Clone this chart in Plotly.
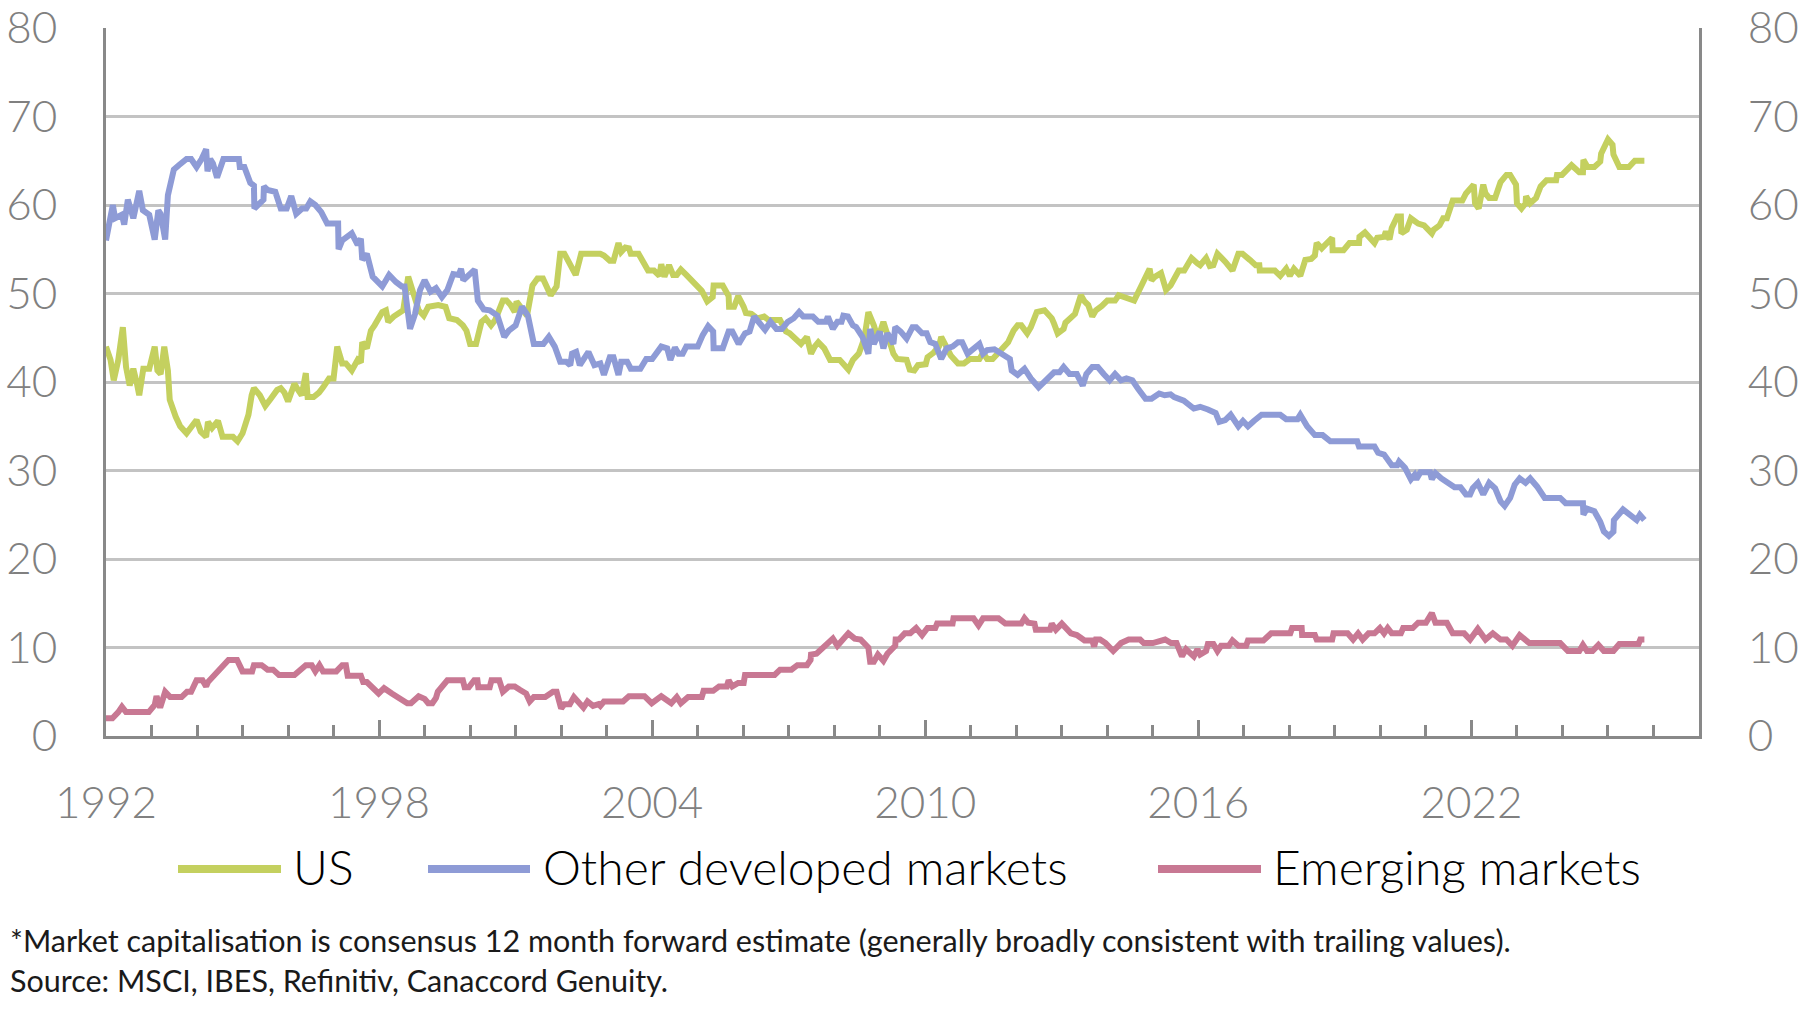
import plotly.graph_objects as go

# ---------------- data (share of world market cap, %) ----------------
us_years = [1992.0, 1992.1, 1992.17, 1992.27, 1992.37, 1992.44, 1992.52, 1992.6, 1992.68, 1992.73, 1992.82, 1992.95,
            1993.07, 1993.13, 1993.2, 1993.28, 1993.36, 1993.4, 1993.53, 1993.63, 1993.77, 1993.87, 1993.99, 1994.08,
            1994.2, 1994.24, 1994.33, 1994.46, 1994.56, 1994.79, 1994.89, 1995.0, 1995.13, 1995.2, 1995.25, 1995.38,
            1995.5, 1995.62, 1995.76, 1995.84, 1995.92, 1996.0, 1996.14, 1996.22, 1996.3, 1996.39, 1996.43, 1996.56,
            1996.68, 1996.77, 1996.9, 1997.0, 1997.08, 1997.19, 1997.27, 1997.4, 1997.53, 1997.6, 1997.63, 1997.73,
            1997.82, 1997.9, 1998.0, 1998.07, 1998.15, 1998.2, 1998.32, 1998.45, 1998.53, 1998.64, 1998.74, 1998.87,
            1998.98, 1999.08, 1999.3, 1999.46, 1999.54, 1999.71, 1999.84, 1999.92, 2000.0, 2000.13, 2000.25, 2000.34,
            2000.46, 2000.55, 2000.72, 2000.8, 2000.89, 2000.98, 2001.02, 2001.14, 2001.25, 2001.37, 2001.48, 2001.6,
            2001.77, 2001.9, 2001.98, 2002.07, 2002.19, 2002.32, 2002.44, 2002.86, 2002.94, 2003.07, 2003.15, 2003.26,
            2003.32, 2003.41, 2003.49, 2003.53, 2003.7, 2003.83, 2003.91, 2004.04, 2004.16, 2004.2, 2004.27, 2004.37,
            2004.46, 2004.54, 2004.63, 2004.75, 2004.92, 2005.09, 2005.21, 2005.33, 2005.35, 2005.55, 2005.68, 2005.69,
            2005.8, 2005.89, 2006.01, 2006.06, 2006.18, 2006.31, 2006.46, 2006.56, 2006.81, 2006.94, 2007.02, 2007.27,
            2007.4, 2007.49, 2007.57, 2007.65, 2007.78, 2007.91, 2008.12, 2008.31, 2008.41, 2008.54, 2008.66, 2008.75,
            2008.87, 2008.96, 2009.08, 2009.21, 2009.3, 2009.38, 2009.5, 2009.59, 2009.66, 2009.76, 2009.84, 2010.01,
            2010.05, 2010.18, 2010.3, 2010.35, 2010.43, 2010.56, 2010.72, 2010.85, 2010.98, 2011.19, 2011.27, 2011.36,
            2011.48, 2011.65, 2011.82, 2011.94, 2012.03, 2012.11, 2012.24, 2012.32, 2012.45, 2012.62, 2012.7, 2012.78,
            2012.83, 2012.91, 2013.04, 2013.08, 2013.29, 2013.42, 2013.5, 2013.58, 2013.67, 2013.75, 2013.88, 2014.0,
            2014.17, 2014.25, 2014.59, 2014.68, 2014.8, 2014.93, 2014.97, 2015.05, 2015.18, 2015.29, 2015.39, 2015.48,
            2015.57, 2015.69, 2015.85, 2015.98, 2016.04, 2016.17, 2016.25, 2016.33, 2016.42, 2016.59, 2016.75, 2016.88,
            2016.97, 2017.13, 2017.26, 2017.34, 2017.35, 2017.68, 2017.8, 2017.93, 2018.01, 2018.1, 2018.24, 2018.35,
            2018.48, 2018.56, 2018.6, 2018.71, 2018.94, 2018.95, 2019.19, 2019.32, 2019.53, 2019.54, 2019.66, 2019.87,
            2019.93, 2020.08, 2020.12, 2020.2, 2020.25, 2020.37, 2020.45, 2020.46, 2020.58, 2020.67, 2020.83, 2020.96,
            2021.13, 2021.17, 2021.3, 2021.38, 2021.46, 2021.59, 2021.8, 2021.88, 2022.05, 2022.08, 2022.16, 2022.26,
            2022.31, 2022.39, 2022.52, 2022.64, 2022.77, 2022.85, 2022.98, 2023.0, 2023.1, 2023.19, 2023.2, 2023.29,
            2023.42, 2023.52, 2023.65, 2023.86, 2023.88, 2023.99, 2024.2, 2024.37, 2024.45, 2024.46, 2024.55, 2024.7,
            2024.83, 2024.85, 2024.95, 2025.0, 2025.1, 2025.12, 2025.25, 2025.46, 2025.59, 2025.8]
us_share = [44.0, 42.5, 40.2, 42.5, 46.2, 41.7, 39.6, 41.5, 39.8, 38.5, 41.5, 41.5,
            44.0, 41.3, 40.9, 44.0, 41.3, 38.0, 36.1, 35.0, 34.2, 34.8, 35.7, 34.4,
            33.8, 35.5, 34.8, 35.6, 33.8, 33.8, 33.3, 34.2, 36.3, 38.5, 39.3, 38.5,
            37.3, 38.1, 39.1, 39.3, 38.8, 37.8, 39.8, 39.1, 38.5, 41.0, 38.3, 38.3,
            38.8, 39.4, 40.4, 40.4, 44.0, 42.1, 42.1, 41.3, 42.5, 42.2, 44.5, 43.8,
            45.8, 46.4, 47.2, 47.9, 48.1, 46.8, 47.4, 47.9, 48.1, 51.9, 50.4, 48.1,
            47.5, 48.5, 48.7, 48.5, 47.2, 47.0, 46.4, 45.8, 44.3, 44.3, 46.8, 47.2,
            46.4, 47.0, 49.2, 49.2, 48.7, 47.9, 49.1, 48.1, 47.5, 50.9, 51.7, 51.7,
            49.8, 50.8, 54.5, 54.5, 53.2, 52.1, 54.5, 54.5, 54.3, 53.7, 53.7, 55.7,
            54.7, 55.2, 55.1, 54.5, 54.5, 53.2, 52.6, 52.6, 52.0, 53.3, 51.9, 53.2,
            52.1, 52.1, 52.7, 52.1, 51.1, 50.3, 49.1, 49.6, 50.9, 50.9, 49.7, 48.5,
            48.5, 49.7, 48.5, 47.8, 47.7, 47.2, 47.4, 47.0, 47.0, 45.7, 45.5, 44.3,
            45.1, 43.2, 44.0, 44.5, 43.8, 42.5, 42.5, 41.4, 42.5, 43.2, 44.9, 47.9,
            46.4, 44.9, 46.8, 44.9, 43.2, 42.6, 42.6, 42.5, 41.4, 41.3, 41.9, 42.0,
            42.8, 43.3, 44.0, 45.1, 44.3, 43.0, 42.1, 42.1, 42.6, 42.6, 43.3, 42.6,
            42.6, 43.6, 44.5, 45.8, 46.4, 46.4, 45.5, 46.2, 47.9, 48.1, 47.7, 47.2,
            46.6, 45.5, 46.0, 46.7, 47.7, 49.8, 49.1, 48.7, 47.4, 48.1, 48.6, 49.2,
            49.2, 49.8, 49.2, 50.2, 51.3, 52.8, 51.5, 51.9, 52.3, 50.4, 50.9, 51.6,
            52.6, 52.6, 54.0, 53.4, 53.2, 54.0, 53.1, 53.2, 54.5, 53.6, 52.6, 54.5,
            54.5, 53.8, 53.2, 53.2, 52.6, 52.6, 52.0, 52.8, 52.0, 52.8, 52.0, 53.8,
            53.9, 54.3, 55.7, 55.1, 56.3, 54.9, 54.9, 55.7, 55.7, 56.4, 56.9, 55.7,
            56.3, 56.4, 57.0, 56.1, 57.4, 58.7, 58.7, 56.8, 57.2, 58.5, 57.9, 57.7,
            56.8, 57.2, 57.7, 58.5, 58.5, 60.5, 60.5, 61.3, 62.3, 60.2, 59.6, 62.3,
            61.3, 60.8, 60.8, 62.6, 63.4, 63.4, 62.3, 60.2, 59.6, 60.2, 61.0, 60.2,
            60.8, 62.1, 62.8, 62.8, 63.4, 63.4, 64.5, 63.7, 63.7, 65.1, 64.3, 64.3,
            64.9, 65.8, 67.1, 67.4, 66.8, 65.7, 64.3, 64.3, 65.0, 65.0]

odm_years = [1992.0, 1992.15, 1992.2, 1992.35, 1992.4, 1992.48, 1992.6, 1992.73, 1992.81, 1992.95, 1993.07, 1993.15,
             1993.2, 1993.3, 1993.36, 1993.49, 1993.6, 1993.77, 1993.87, 1993.99, 1994.1, 1994.2, 1994.23, 1994.29,
             1994.35, 1994.44, 1994.58, 1994.92, 1994.94, 1995.04, 1995.17, 1995.25, 1995.26, 1995.46, 1995.47, 1995.55,
             1995.72, 1995.84, 1995.97, 1996.07, 1996.18, 1996.31, 1996.4, 1996.49, 1996.6, 1996.73, 1996.86, 1997.1,
             1997.11, 1997.19, 1997.4, 1997.53, 1997.6, 1997.63, 1997.73, 1997.86, 1998.07, 1998.22, 1998.37, 1998.5,
             1998.56, 1998.68, 1998.79, 1998.9, 1999.0, 1999.13, 1999.25, 1999.38, 1999.5, 1999.63, 1999.75, 1999.8,
             1999.85, 1999.96, 2000.1, 2000.17, 2000.3, 2000.43, 2000.6, 2000.75, 2000.85, 2001.0, 2001.14, 2001.27,
             2001.4, 2001.61, 2001.73, 2001.86, 2001.98, 2002.11, 2002.2, 2002.24, 2002.33, 2002.41, 2002.6, 2002.73,
             2002.86, 2002.94, 2003.07, 2003.15, 2003.26, 2003.32, 2003.45, 2003.53, 2003.74, 2003.87, 2004.0, 2004.2,
             2004.33, 2004.4, 2004.5, 2004.58, 2004.67, 2004.75, 2005.0, 2005.11, 2005.23, 2005.34, 2005.35, 2005.55,
             2005.68, 2005.76, 2005.9, 2006.04, 2006.14, 2006.24, 2006.35, 2006.48, 2006.6, 2006.73, 2006.85, 2006.98,
             2007.11, 2007.23, 2007.32, 2007.53, 2007.65, 2007.82, 2007.86, 2007.97, 2008.07, 2008.16, 2008.2, 2008.3,
             2008.41, 2008.48, 2008.62, 2008.75, 2008.79, 2008.87, 2009.0, 2009.08, 2009.17, 2009.3, 2009.34, 2009.46,
             2009.59, 2009.72, 2009.8, 2009.93, 2010.03, 2010.11, 2010.22, 2010.35, 2010.47, 2010.6, 2010.72, 2010.81,
             2010.93, 2011.06, 2011.19, 2011.27, 2011.36, 2011.52, 2011.65, 2011.86, 2011.9, 2012.03, 2012.18, 2012.32,
             2012.49, 2012.66, 2012.83, 2012.95, 2013.04, 2013.17, 2013.33, 2013.46, 2013.54, 2013.67, 2013.79, 2013.92,
             2014.05, 2014.17, 2014.3, 2014.42, 2014.55, 2014.68, 2014.76, 2014.84, 2014.97, 2015.14, 2015.26, 2015.39,
             2015.47, 2015.68, 2015.9, 2016.04, 2016.21, 2016.38, 2016.46, 2016.59, 2016.71, 2016.88, 2016.98, 2017.09,
             2017.22, 2017.39, 2017.8, 2017.93, 2018.18, 2018.24, 2018.39, 2018.56, 2018.73, 2018.9, 2019.49, 2019.53,
             2019.87, 2019.95, 2020.08, 2020.25, 2020.37, 2020.41, 2020.54, 2020.67, 2020.75, 2020.79, 2020.88, 2021.09,
             2021.13, 2021.21, 2021.34, 2021.51, 2021.63, 2021.76, 2021.88, 2021.97, 2022.03, 2022.14, 2022.26, 2022.39,
             2022.52, 2022.64, 2022.73, 2022.85, 2022.95, 2023.06, 2023.19, 2023.29, 2023.44, 2023.61, 2023.95, 2024.07,
             2024.45, 2024.46, 2024.54, 2024.7, 2024.83, 2024.91, 2025.02, 2025.12, 2025.13, 2025.33, 2025.5, 2025.63,
             2025.7, 2025.8]
odm_share = [56.0, 60.0, 58.5, 58.9, 57.8, 60.6, 58.5, 61.6, 59.4, 58.9, 56.1, 59.4,
             59.0, 56.1, 61.1, 64.0, 64.5, 65.2, 65.2, 64.3, 65.2, 66.3, 63.8, 65.2,
             64.7, 63.1, 65.2, 65.2, 64.3, 64.3, 62.5, 62.2, 59.6, 60.6, 62.1, 61.7,
             61.5, 59.6, 59.6, 61.0, 59.0, 59.6, 59.6, 60.4, 60.0, 59.2, 57.9, 57.9,
             55.0, 56.0, 56.8, 55.5, 56.2, 53.8, 54.5, 51.9, 50.8, 52.1, 51.3, 50.8,
             50.8, 46.0, 47.7, 50.4, 51.5, 50.2, 50.6, 49.6, 50.4, 52.2, 52.1, 52.8,
             51.5, 52.1, 52.7, 49.2, 48.2, 48.1, 47.5, 45.1, 45.8, 46.4, 48.5, 47.5,
             44.3, 44.3, 45.1, 44.0, 42.3, 42.3, 41.9, 43.2, 43.4, 41.9, 43.4, 41.9,
             42.1, 40.8, 42.8, 42.8, 40.8, 42.3, 42.3, 41.5, 41.5, 42.6, 42.6, 44.0,
             43.8, 42.5, 43.9, 43.2, 43.2, 44.0, 44.0, 45.3, 46.3, 45.7, 43.8, 43.8,
             45.7, 45.7, 44.3, 45.5, 45.7, 47.4, 46.8, 45.9, 46.8, 46.0, 46.0, 46.8,
             47.2, 47.9, 47.4, 47.4, 46.8, 46.8, 47.4, 46.0, 46.8, 46.8, 47.5, 47.4,
             46.4, 46.2, 45.1, 43.2, 46.0, 44.3, 45.7, 43.8, 45.5, 44.3, 46.2, 45.7,
             44.9, 46.2, 46.2, 45.5, 45.5, 44.5, 44.3, 42.6, 43.8, 44.0, 44.5, 44.5,
             43.2, 43.8, 44.3, 43.2, 43.6, 43.7, 43.2, 42.6, 41.3, 40.8, 41.5, 40.4,
             39.4, 40.2, 41.1, 41.1, 41.7, 40.9, 40.9, 39.6, 40.9, 41.7, 41.7, 40.9,
             40.2, 40.9, 40.2, 40.4, 40.2, 39.2, 38.6, 38.1, 38.1, 38.7, 38.5, 38.6,
             38.3, 37.9, 37.0, 37.2, 36.9, 36.5, 35.5, 35.7, 36.3, 35.0, 35.6, 35.0,
             35.6, 36.3, 36.3, 35.8, 35.8, 36.3, 35.0, 34.0, 34.0, 33.3, 33.3, 32.7,
             32.7, 32.0, 31.8, 30.6, 30.6, 31.0, 30.3, 29.0, 29.5, 29.0, 29.8, 29.8,
             29.0, 29.7, 29.1, 28.6, 28.1, 28.1, 27.3, 27.3, 28.0, 28.6, 27.3, 28.6,
             28.0, 26.5, 26.0, 26.9, 28.4, 29.1, 28.6, 29.1, 28.2, 26.9, 26.9, 26.3,
             26.3, 25.0, 25.7, 25.4, 24.2, 23.1, 22.6, 23.1, 24.4, 25.6, 24.8, 24.4,
             25.0, 24.4]

em_years = [1992.0, 1992.14, 1992.27, 1992.35, 1992.44, 1992.94, 1993.07, 1993.11, 1993.19, 1993.3, 1993.41, 1993.66,
            1993.78, 1993.87, 1993.99, 1994.12, 1994.2, 1994.24, 1994.69, 1994.88, 1995.0, 1995.21, 1995.25, 1995.42,
            1995.55, 1995.67, 1995.8, 1996.14, 1996.39, 1996.52, 1996.6, 1996.69, 1996.77, 1997.06, 1997.19, 1997.27,
            1997.31, 1997.6, 1997.65, 1997.73, 1997.99, 1998.11, 1998.28, 1998.41, 1998.5, 1998.62, 1998.7, 1998.87,
            1999.0, 1999.08, 1999.17, 1999.25, 1999.29, 1999.5, 1999.84, 1999.88, 1999.97, 2000.09, 2000.16, 2000.18,
            2000.43, 2000.47, 2000.64, 2000.72, 2000.85, 2000.98, 2001.1, 2001.23, 2001.31, 2001.4, 2001.65, 2001.82,
            2001.9, 2002.0, 2002.07, 2002.19, 2002.28, 2002.36, 2002.49, 2002.58, 2002.7, 2002.82, 2002.86, 2002.94,
            2003.36, 2003.49, 2003.83, 2003.99, 2004.2, 2004.42, 2004.54, 2004.63, 2004.79, 2005.09, 2005.13, 2005.34,
            2005.47, 2005.64, 2005.68, 2005.76, 2005.89, 2006.01, 2006.04, 2006.69, 2006.81, 2007.06, 2007.19, 2007.4,
            2007.48, 2007.49, 2007.61, 2007.97, 2008.07, 2008.31, 2008.45, 2008.58, 2008.75, 2008.79, 2008.87, 2008.96,
            2009.08, 2009.17, 2009.34, 2009.35, 2009.42, 2009.55, 2009.67, 2009.8, 2009.93, 2010.05, 2010.22, 2010.26,
            2010.6, 2010.62, 2011.06, 2011.17, 2011.27, 2011.61, 2011.76, 2012.11, 2012.18, 2012.26, 2012.4, 2012.43,
            2012.74, 2012.78, 2012.87, 2013.0, 2013.2, 2013.33, 2013.5, 2013.67, 2013.71, 2013.75, 2013.84, 2013.96,
            2014.13, 2014.3, 2014.47, 2014.72, 2014.8, 2015.0, 2015.27, 2015.4, 2015.52, 2015.64, 2015.73, 2015.9,
            2015.98, 2016.04, 2016.17, 2016.21, 2016.33, 2016.42, 2016.5, 2016.67, 2016.75, 2016.88, 2017.05, 2017.09,
            2017.43, 2017.6, 2018.02, 2018.06, 2018.27, 2018.28, 2018.56, 2018.6, 2018.94, 2018.97, 2019.28, 2019.4,
            2019.51, 2019.61, 2019.74, 2019.87, 2019.99, 2020.08, 2020.16, 2020.25, 2020.45, 2020.5, 2020.71, 2020.83,
            2021.0, 2021.13, 2021.21, 2021.46, 2021.59, 2021.84, 2021.97, 2022.14, 2022.31, 2022.47, 2022.64, 2022.77,
            2022.9, 2023.06, 2023.27, 2023.95, 2024.12, 2024.37, 2024.45, 2024.54, 2024.66, 2024.79, 2024.91, 2025.12,
            2025.25, 2025.67, 2025.71, 2025.8]
em_share = [2.0, 2.0, 2.7, 3.3, 2.7, 2.7, 3.5, 4.5, 3.2, 5.0, 4.4, 4.4,
            5.0, 5.0, 6.3, 6.3, 5.6, 6.1, 8.6, 8.6, 7.3, 7.3, 8.0, 8.0,
            7.5, 7.5, 6.9, 6.9, 8.0, 8.0, 7.3, 8.0, 7.3, 7.3, 8.0, 8.0,
            6.8, 6.8, 6.1, 6.1, 4.8, 5.4, 4.8, 4.4, 4.2, 3.7, 3.7, 4.5,
            4.2, 3.7, 3.7, 4.3, 5.0, 6.3, 6.3, 5.5, 5.5, 6.3, 6.3, 5.5,
            5.5, 6.3, 6.3, 5.0, 5.6, 5.6, 5.2, 4.8, 3.9, 4.4, 4.4, 5.0,
            5.0, 3.1, 3.6, 3.6, 4.4, 3.9, 3.2, 3.9, 3.4, 3.6, 3.4, 3.9,
            3.9, 4.5, 4.5, 3.7, 4.5, 3.7, 4.4, 3.7, 4.4, 4.4, 5.1, 5.1,
            5.6, 5.6, 6.3, 5.6, 6.0, 6.0, 6.9, 6.9, 7.5, 7.5, 8.0, 8.0,
            8.6, 9.2, 9.3, 11.0, 10.2, 11.6, 11.0, 10.9, 10.0, 8.4, 8.4, 9.2,
            8.5, 9.3, 10.2, 10.9, 10.9, 11.6, 11.6, 12.2, 11.4, 12.2, 12.2, 12.7,
            12.7, 13.3, 13.3, 12.5, 13.3, 13.3, 12.7, 12.7, 13.3, 12.8, 12.7, 12.0,
            12.0, 12.7, 12.0, 12.7, 11.6, 11.4, 10.8, 10.8, 10.1, 10.9, 10.9, 10.5,
            9.6, 10.5, 10.9, 10.9, 10.5, 10.5, 10.9, 10.5, 10.5, 9.0, 9.8, 9.0,
            9.8, 9.2, 9.6, 10.4, 10.4, 9.6, 10.2, 10.2, 10.8, 10.2, 10.2, 10.8,
            10.8, 11.6, 11.6, 12.2, 12.2, 11.4, 11.4, 10.9, 10.9, 11.6, 11.6, 10.9,
            11.6, 10.9, 11.6, 11.6, 12.2, 11.6, 12.2, 11.6, 11.6, 12.2, 12.2, 12.8,
            12.8, 13.9, 12.8, 12.8, 11.6, 11.6, 10.9, 12.1, 10.9, 11.6, 10.9, 10.9,
            10.2, 11.4, 10.5, 10.5, 9.6, 9.6, 10.3, 9.6, 9.6, 10.3, 9.6, 9.6,
            10.4, 10.4, 10.9, 10.9]

series_names = ["US", "Other developed markets", "Emerging markets"]
series_colors = ["#c4d05f", "#8e9bd6", "#c87893"]

x_tick_years = [1992, 1998, 2004, 2010, 2016, 2022]
x_tick_labels = ["1992", "1998", "2004", "2010", "2016", "2022"]
y_ticks = [0, 10, 20, 30, 40, 50, 60, 70, 80]
y_tick_labels = ["0", "10", "20", "30", "40", "50", "60", "70", "80"]

footnotes = [
    "*Market capitalisation is consensus 12 month forward estimate (generally broadly consistent with trailing values).",
    "Source: MSCI, IBES, Refinitiv, Canaccord Genuity.",
]

# ---------------- figure ----------------
W, H = 1800, 1033
L, R, T, B = 106, 101, 28, 297
PW, PH = W - L - R, H - T - B


def px_to_paper_x(px):
    return (px - L) / PW


def px_to_paper_y(py):
    return (H - B - py) / PH


AXIS_GREY = "#898989"
GRID_GREY = "#c3c3c3"
LABEL_GREY = "#808080"
FONT = "Lato"

fig = go.Figure()
fig.add_trace(go.Scatter(x=us_years, y=us_share, mode="lines", name=series_names[0],
                         line=dict(color=series_colors[0], width=6), showlegend=False))
fig.add_trace(go.Scatter(x=odm_years, y=odm_share, mode="lines", name=series_names[1],
                         line=dict(color=series_colors[1], width=6), showlegend=False))
fig.add_trace(go.Scatter(x=em_years, y=em_share, mode="lines", name=series_names[2],
                         line=dict(color=series_colors[2], width=6), showlegend=False,
                         yaxis="y2"))

tick_font = dict(family=FONT, size=44, color=LABEL_GREY, weight=300)

fig.update_layout(
    width=W, height=H,
    margin=dict(l=L, r=R, t=T, b=B, pad=0, autoexpand=False),
    paper_bgcolor="white", plot_bgcolor="white",
    xaxis=dict(
        range=[1992, 2027], tickmode="array", tickvals=x_tick_years, ticktext=x_tick_labels,
        ticks="inside", ticklen=16, tickwidth=3, tickcolor=AXIS_GREY,
        minor=dict(dtick=1, tick0=1992, ticks="inside", ticklen=11, tickwidth=3, tickcolor=AXIS_GREY, showgrid=False),
        showline=True, linecolor=AXIS_GREY, linewidth=3, showgrid=False, zeroline=False,
        tickfont=tick_font, ticklabelstandoff=26, automargin=False,
    ),
    yaxis=dict(
        range=[0, 80], tickmode="array", tickvals=y_ticks, ticktext=y_tick_labels,
        showline=True, linecolor=AXIS_GREY, linewidth=3, showgrid=True, gridcolor=GRID_GREY, gridwidth=2.5,
        zeroline=False, ticks="", tickfont=tick_font, ticklabelstandoff=37, automargin=False,
    ),
    yaxis2=dict(
        range=[0, 80], overlaying="y", side="right", tickmode="array", tickvals=y_ticks, ticktext=y_tick_labels,
        showline=True, linecolor=AXIS_GREY, linewidth=3, showgrid=False, zeroline=False, ticks="",
        tickfont=tick_font, ticklabelstandoff=37, automargin=False,
    ),
    hovermode=False,
)

# ---------------- custom legend ----------------
legend_line_px = [(178, 281), (428, 530), (1158, 1261)]
legend_text_px = [291, 541, 1271]
legend_y = px_to_paper_y(869)
shapes = []
annotations = []
for (x0, x1), tx, name, col in zip(legend_line_px, legend_text_px, series_names, series_colors):
    shapes.append(dict(type="line", xref="paper", yref="paper",
                       x0=px_to_paper_x(x0), x1=px_to_paper_x(x1), y0=legend_y, y1=legend_y,
                       line=dict(color=col, width=8)))
    annotations.append(dict(xref="paper", yref="paper", x=px_to_paper_x(tx), y=px_to_paper_y(867),
                            xanchor="left", yanchor="middle", text=name, showarrow=False,
                            font=dict(family=FONT, size=48, color="#000000", weight=300)))

for i, (txt, py) in enumerate(zip(footnotes, [940, 980])):
    annotations.append(dict(xref="paper", yref="paper", x=px_to_paper_x(8), y=px_to_paper_y(py),
                            xanchor="left", yanchor="middle", text=txt, showarrow=False,
                            font=dict(family=FONT, size=30.5, color="#1a1a1a")))

fig.update_layout(shapes=shapes, annotations=annotations)

fig.write_html("out.html", config={"displayModeBar": False},
               post_script="document.body.style.margin='0px';document.body.style.padding='0px';")
